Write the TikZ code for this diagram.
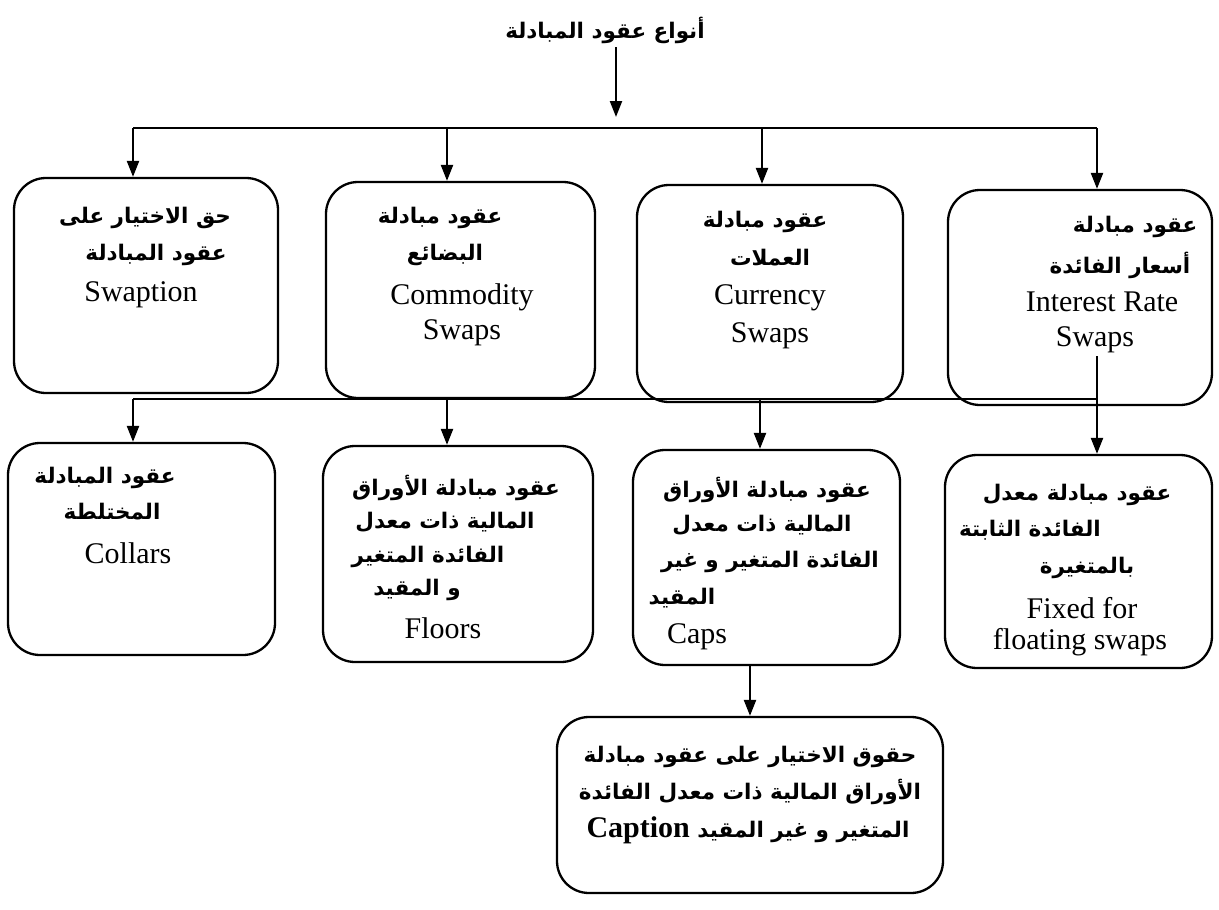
\documentclass[tikz,border=0pt]{standalone}
\usepackage{fontspec}
\setmainfont{Liberation Serif}
\newfontfamily\arabicfont[Script=Arabic]{DejaVu Sans}
\TeXXeTstate=1
\usetikzlibrary{arrows.meta}
\newcommand{\arl}[1]{\beginR #1\endR}
\tikzset{
  box/.style={draw, line width=2.3pt, rounded corners=32pt, inner sep=0pt},
  en/.style={font=\fontsize{30}{36}\selectfont, inner sep=0pt},
  arb/.style={font=\fontsize{21.5}{26}\selectfont\arabicfont\bfseries, inner sep=0pt},
  arr/.style={line width=2.3pt, -{Triangle[length=16pt,width=12pt]}},
  ln/.style={line width=2.3pt}
}
\begin{document}
\begin{tikzpicture}[x=1pt,y=-1pt]
\useasboundingbox (0,0) rectangle (1219,910);
% title
\node[arb] (title) at (605,30) {\arl{أنواع عقود المبادلة}};
\coordinate (tt) at (616,47);
\coordinate (te) at (616,117);
\draw[arr] (tt) -- (te);
% bus 1
\coordinate (b1) at (133,128);
\coordinate (b2) at (447,128);
\coordinate (b3) at (762,128);
\coordinate (b4) at (1097,128);
\draw[ln] (b1) -- (b4);
% top boxes
\node[box, minimum width=264pt, minimum height=215pt] (s1) at (146,285.5) {};
\node[box, minimum width=269pt, minimum height=216pt] (s2) at (460.5,290) {};
\node[box, minimum width=266pt, minimum height=217pt] (s3) at (770,293.5) {};
\node[box, minimum width=264pt, minimum height=215pt] (s4) at (1080,297.5) {};
\draw[arr] (b1) -- (b1 |- s1.north);
\draw[arr] (b2) -- (b2 |- s2.north);
\draw[arr] (b3) -- (b3 |- s3.north);
\draw[arr] (b4) -- (b4 |- s4.north);
% texts top
\node[arb] (s1a) at (145,218) {\arl{حق الاختيار على}};
\node[arb] (s1b) at (156,255) {\arl{عقود المبادلة}};
\node[en] (s1c) at (141,295) {Swaption};
\node[arb] (s2a) at (440,218) {\arl{عقود مبادلة}};
\node[arb] (s2b) at (445,255) {\arl{البضائع}};
\node[en] (s2c) at (462,297) {Commodity};
\node[en] (s2d) at (462,333) {Swaps};
\node[arb] (s3a) at (765,222) {\arl{عقود مبادلة}};
\node[arb] (s3b) at (770,258) {\arl{العملات}};
\node[en] (s3c) at (770,298) {Currency};
\node[en] (s3d) at (770,336) {Swaps};
\node[arb] (s4a) at (1135,227) {\arl{عقود مبادلة}};
\node[arb] (s4b) at (1120,265) {\arl{أسعار الفائدة}};
\node[en] (s4c) at (1102,302) {Interest Rate};
\node[en] (s4d) at (1095,340) {Swaps};
% bus 2
\coordinate (c1) at (133,399);
\coordinate (c2) at (447,399);
\coordinate (c3) at (760,399);
\coordinate (c4) at (1097,399);
\coordinate (c4s) at (1097,356);
\draw[ln] (c1) -- (c4);
% second row boxes
\node[box, minimum width=267pt, minimum height=212pt] (r1) at (141.5,549) {};
\node[box, minimum width=270pt, minimum height=216pt] (r2) at (458,554) {};
\node[box, minimum width=267pt, minimum height=215pt] (r3) at (766.5,557.5) {};
\node[box, minimum width=267pt, minimum height=213pt] (r4) at (1078.5,561.5) {};
\draw[arr] (c1) -- (c1 |- r1.north);
\draw[arr] (c2) -- (c2 |- r2.north);
\draw[arr] (c3) -- (c3 |- r3.north);
\draw[arr] (c4s) -- (c4s |- r4.north);
% texts row 2
\node[arb] (r1a) at (105,478) {\arl{عقود المبادلة}};
\node[arb] (r1b) at (112,512) {\arl{المختلطة}};
\node[en] (r1c) at (128,553) {Collars};
\node[arb] (r2a) at (456,488) {\arl{عقود مبادلة الأوراق}};
\node[arb] (r2b) at (445,522) {\arl{المالية ذات معدل}};
\node[arb] (r2c) at (428,557) {\arl{الفائدة المتغير}};
\node[arb] (r2d) at (417,590) {\arl{و المقيد}};
\node[en] (r2e) at (443,628) {Floors};
\node[arb] (r3a) at (767,490) {\arl{عقود مبادلة الأوراق}};
\node[arb] (r3b) at (762,525) {\arl{المالية ذات معدل}};
\node[arb] (r3c) at (770,562) {\arl{الفائدة المتغير و غير}};
\node[arb] (r3d) at (682,598) {\arl{المقيد}};
\node[en] (r3e) at (697,637) {Caps};
\node[arb] (r4a) at (1077,495) {\arl{عقود مبادلة معدل}};
\node[arb] (r4b) at (1030,530) {\arl{الفائدة الثابتة}};
\node[arb] (r4c) at (1087,568) {\arl{بالمتغيرة}};
\node[en] (r4d) at (1082,608) {Fixed for};
\node[en] (r4e) at (1080,642) {floating swaps};
% caption box
\node[box, minimum width=386pt, minimum height=176pt] (cb) at (750,805) {};
\coordinate (d1) at (750,665);
\draw[arr] (d1) -- (d1 |- cb.north);
\node[arb] (cba) at (750,757) {\arl{حقوق الاختيار على عقود مبادلة}};
\node[arb] (cbb) at (750,792) {\arl{الأوراق المالية ذات معدل الفائدة}};
\node[arb] (cbc) at (748,830) {\beginR المتغير و غير المقيد \beginL{\fontsize{30}{36}\selectfont\rmfamily\bfseries Caption}\endL\endR};
\end{tikzpicture}
\end{document}
